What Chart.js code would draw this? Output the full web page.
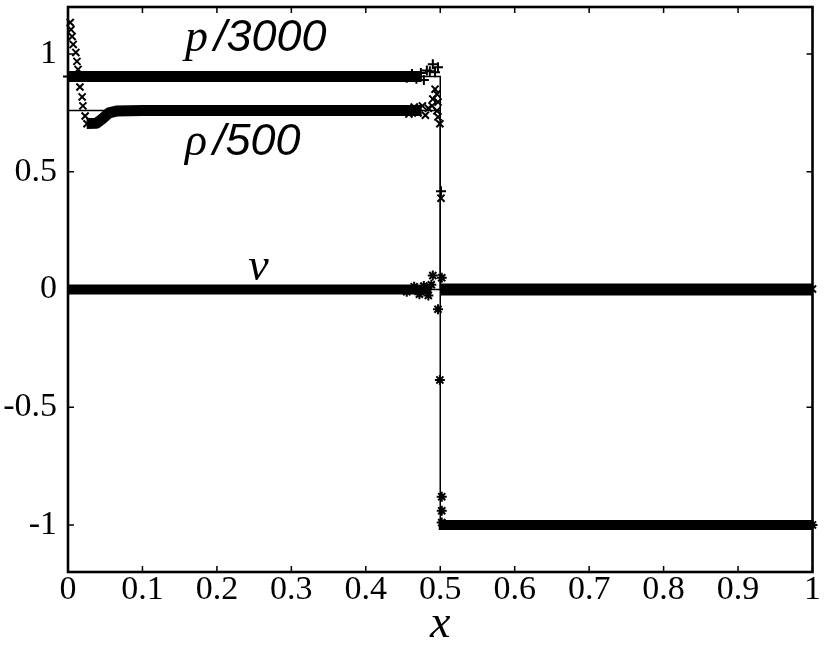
<!DOCTYPE html>
<html lang="en">
<head>
<meta charset="UTF-8" />
<title>p/3000, rho/500, v</title>
<script src="https://cdn.jsdelivr.net/npm/chart.js"></script>
<style>
  body { margin: 0; background: #fff; }
  canvas { display: block; }
</style>
</head>
<body>
<canvas id="plot" width="830" height="651"></canvas>
<script>
// axes
const xTicks = [0, 0.1, 0.2, 0.3, 0.4, 0.5, 0.6, 0.7, 0.8, 0.9, 1];
const yTicks = [-1, -0.5, 0, 0.5, 1];

// exact solution (thin lines)
const exactX = [0, 0.5, 0.5, 1];
const exactP = [0.905, 0.905, 0, 0];
const exactRho = [0.76, 0.76, 0.002, 0.002];
const exactV = [0, 0, -1, -1];

// dense numerical points, read as solid bands
const pBandX = [0, 0.475];
const pBandY = [0.905, 0.905];
const rhoBandX = [0.025, 0.038, 0.046, 0.055, 0.065, 0.1, 0.475];
const rhoBandY = [0.705, 0.706, 0.725, 0.75, 0.758, 0.76, 0.76];
const vBandX = [0, 0.488];
const vBandY = [0, 0];
const zeroBandX = [0.5, 1];      // p and rho behind the shock
const zeroBandY = [0, 0];
const lowBandX = [0.498, 1];     // v behind the shock
const lowBandY = [-1, -1];

// single markers near the wall and the shock
const pMarkX = [0, 0.455, 0.462, 0.468, 0.474, 0.478, 0.482, 0.486, 0.490, 0.493, 0.497, 0.501];
const pMarkY = [0.905, 0.90, 0.915, 0.895, 0.92, 0.89, 0.93, 0.927, 0.957, 0.923, 0.944, 0.417];
const rhoMarkX = [0.003, 0.004, 0.0055, 0.007, 0.0105, 0.012, 0.0135, 0.0135, 0.016, 0.019, 0.020, 0.023, 0.0255,
                  0.458, 0.465, 0.47, 0.476, 0.48, 0.484, 0.489, 0.490, 0.493, 0.4955, 0.4955, 0.497, 0.497, 0.4995, 0.501, 1];
const rhoMarkY = [1.134, 1.104, 1.075, 1.041, 1.007, 0.969, 0.935, 0.902, 0.86, 0.818, 0.78, 0.737, 0.704,
                  0.745, 0.775, 0.75, 0.78, 0.74, 0.77, 0.78, 0.809, 0.851, 0.83, 0.759, 0.796, 0.733, 0.704, 0.388, 0.002];
const vMarkX = [0.455, 0.465, 0.472, 0.478, 0.484, 0.488, 0.490, 0.502, 0.497, 0.4995, 0.502, 0.502, 0.502, 1];
const vMarkY = [-0.01, 0.012, -0.02, 0.015, -0.025, 0.02, 0.059, 0.05, -0.084, -0.384, -0.88, -0.94, -0.99, -1];

// curve labels
const labelText = ["p/3000", "ρ/500", "v"];
const labelX = [0.157, 0.157, 0.242];
const labelY = [1.015, 0.572, 0.04];

function pts(xs, ys) {
  return xs.map((x, i) => ({ x: x, y: ys[i] }));
}

function thin(xs, ys) {
  return { data: pts(xs, ys), showLine: true, borderColor: '#000', borderWidth: 1.5, pointRadius: 0, clip: false };
}

function band(xs, ys, w) {
  return { data: pts(xs, ys), showLine: true, borderColor: '#000', borderWidth: w, pointRadius: 0,
           borderCapStyle: 'butt', borderJoinStyle: 'round', clip: false };
}

function marks(xs, ys, style) {
  return { data: pts(xs, ys), showLine: false, pointStyle: style, pointRadius: 5,
           borderColor: '#000', backgroundColor: '#000', pointBorderWidth: 2, clip: false };
}

const frame = {
  id: 'frame',
  afterDatasetsDraw(chart) {
    const { ctx, chartArea: a, scales: { x, y } } = chart;
    ctx.save();
    ctx.strokeStyle = '#000';
    ctx.lineWidth = 1.5;
    ctx.beginPath();
    xTicks.forEach(v => {
      const px = x.getPixelForValue(v);
      ctx.moveTo(px, a.bottom); ctx.lineTo(px, a.bottom - 6);
      ctx.moveTo(px, a.top); ctx.lineTo(px, a.top + 6);
    });
    yTicks.forEach(v => {
      const py = y.getPixelForValue(v);
      ctx.moveTo(a.left, py); ctx.lineTo(a.left + 6, py);
      ctx.moveTo(a.right, py); ctx.lineTo(a.right - 6, py);
    });
    ctx.stroke();
    ctx.lineWidth = 2.6;
    ctx.strokeRect(a.left, a.top, a.right - a.left, a.bottom - a.top);

    ctx.fillStyle = '#000';
    ctx.textBaseline = 'alphabetic';
    labelText.forEach((t, i) => {
      let px = x.getPixelForValue(labelX[i]);
      const py = y.getPixelForValue(labelY[i]);
      ctx.font = 'italic 46px "Liberation Serif"';
      const head = t.charAt(0);
      ctx.fillText(head, px, py);
      px += ctx.measureText(head).width + 6;
      ctx.font = 'italic 45px "Liberation Sans"';
      ctx.fillText(t.slice(1), px, py);
    });
    ctx.restore();
  }
};

new Chart(document.getElementById('plot'), {
  type: 'scatter',
  data: {
    datasets: [
      thin(exactX, exactP),
      thin(exactX, exactRho),
      thin(exactX, exactV),
      band(pBandX, pBandY, 11),
      band(rhoBandX, rhoBandY, 11),
      band(vBandX, vBandY, 10),
      band(zeroBandX, zeroBandY, 12),
      band(lowBandX, lowBandY, 10),
      marks(pMarkX, pMarkY, 'cross'),
      marks(rhoMarkX, rhoMarkY, 'crossRot'),
      marks(vMarkX, vMarkY, 'star')
    ]
  },
  options: {
    responsive: false,
    animation: false,
    devicePixelRatio: 1,
    layout: { padding: { top: 3, right: 17.5, bottom: 0, left: 0 } },
    plugins: { legend: { display: false }, tooltip: { enabled: false } },
    scales: {
      x: {
        type: 'linear', min: 0, max: 1,
        grid: { display: false, drawTicks: false },
        border: { display: false },
        afterBuildTicks: s => { s.ticks = xTicks.map(v => ({ value: v })); },
        afterFit: s => { s.height = 79; s.paddingLeft = 0; s.paddingRight = 0; },
        ticks: { color: '#000', padding: -2, maxRotation: 0, autoSkip: false,
                 font: { family: 'Liberation Serif', size: 34 }, callback: v => String(v) },
        title: { display: true, text: 'x', color: '#000', padding: { top: 0, bottom: -2 },
                 font: { family: 'Liberation Serif', style: 'italic', size: 46 } }
      },
      y: {
        type: 'linear', min: -1.2, max: 1.2,
        grid: { display: false, drawTicks: false },
        border: { display: false },
        afterBuildTicks: s => { s.ticks = yTicks.map(v => ({ value: v })); },
        afterFit: s => { s.width = 68; s.paddingTop = 0; s.paddingBottom = 0; },
        ticks: { color: '#000', padding: 11, autoSkip: false,
                 font: { family: 'Liberation Serif', size: 34 }, callback: v => String(v) }
      }
    }
  },
  plugins: [frame]
});
</script>
</body>
</html>
